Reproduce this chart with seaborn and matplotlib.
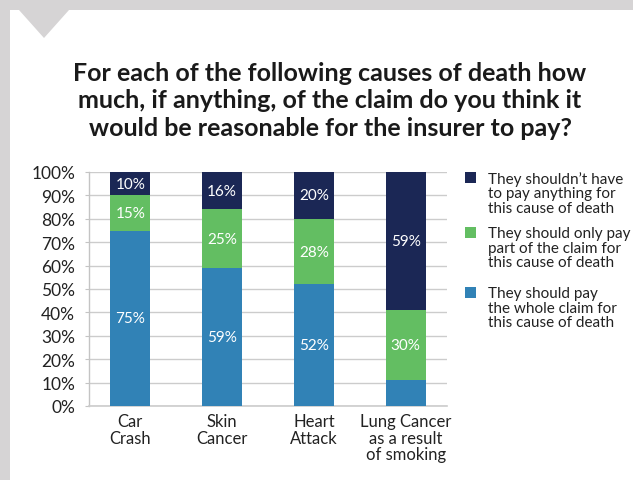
import matplotlib
matplotlib.use("Agg")
import matplotlib.pyplot as plt
from matplotlib.patches import Rectangle, Polygon
import seaborn as sns
import pandas as pd

categories = ["Car\nCrash", "Skin\nCancer", "Heart\nAttack", "Lung Cancer\nas a result\nof smoking"]
whole = [75, 59, 52, 11]
part = [15, 25, 28, 30]
nothing = [10, 16, 20, 59]
whole_labels = ["75%", "59%", "52%", None]
part_labels = ["15%", "25%", "28%", "30%"]
nothing_labels = ["10%", "16%", "20%", "59%"]
series_names = [
    "They shouldn\u2019t have\nto pay anything for\nthis cause of death",
    "They should only pay\npart of the claim for\nthis cause of death",
    "They should pay\nthe whole claim for\nthis cause of death",
]
yticks = [0, 10, 20, 30, 40, 50, 60, 70, 80, 90, 100]
title = ("For each of the following causes of death how\n"
         "much, if anything, of the claim do you think it\n"
         "would be reasonable for the insurer to pay?")

NAVY = "#1b2755"
GREEN = "#63be62"
BLUE = "#3182b6"
GREY_BG = "#d6d4d5"

sns.set_style("white")
plt.rcParams["font.family"] = ["Lato", "DejaVu Sans"]

W, H = 633, 481
fig = plt.figure(figsize=(W / 100, H / 100), dpi=100, facecolor=GREY_BG)

# white panel and notch
fig.patches.append(Rectangle((10 / W, 0), 1, 1 - 11 / H, transform=fig.transFigure,
                             facecolor="white", edgecolor="none", zorder=-3))
fig.patches.append(Polygon([(19 / W, 1 - 11 / H), (69 / W, 1 - 11 / H), (44 / W, 1 - 39 / H)],
                           closed=True, transform=fig.transFigure,
                           facecolor=GREY_BG, edgecolor="none", zorder=-2))

ax = fig.add_axes([89 / W, (H - 407) / H, 358 / W, 234 / H])
ax.set_zorder(1)
ax.set_facecolor("none")

df = pd.DataFrame({"cat": categories, "whole": whole, "part": part, "nothing": nothing})
df["wp"] = df["whole"] + df["part"]
df["all"] = df["wp"] + df["nothing"]

bw = 0.436
for col, c in [("all", NAVY), ("wp", GREEN), ("whole", BLUE)]:
    sns.barplot(data=df, x="cat", y=col, color=c, saturation=1, width=bw, ax=ax,
                zorder=3, linewidth=0, edgecolor="none")

for i in range(len(categories)):
    segs = [(whole[i], 0, whole_labels[i]),
            (part[i], whole[i], part_labels[i]),
            (nothing[i], whole[i] + part[i], nothing_labels[i])]
    for h, b, lab in segs:
        if lab:
            ax.text(i, b + h / 2, lab, ha="center", va="center", color="white",
                    fontsize=11, zorder=4)

ax.set_xlim(-0.45, 3.45)
ax.set_ylim(0, 100)
ax.set_yticks(yticks)
ax.set_yticklabels([f"{t}%" for t in yticks])
ax.set_xlabel("")
ax.set_ylabel("")
ax.yaxis.grid(True, color="#cccccc", linewidth=1, zorder=0)
ax.set_axisbelow(True)
for s in ["top", "right"]:
    ax.spines[s].set_visible(False)
ax.spines["left"].set_color("#c4c4c4")
ax.spines["bottom"].set_color("#cccccc")
ax.spines["left"].set_linewidth(1)
ax.spines["bottom"].set_linewidth(1.2)
ax.tick_params(axis="y", length=3, color="#c4c4c4", pad=7, labelsize=12.5, labelcolor="#222222", left=True)
ax.tick_params(axis="x", length=0, pad=5, labelsize=12, labelcolor="#222222")
for lbl in ax.get_xticklabels():
    lbl.set_linespacing(1.05)

fig.text(330 / W, 1 - 101 / H, title, ha="center", va="center", fontsize=18,
         fontweight="bold", color="#1a1a1a", linespacing=1.25)

# legend
leg_colors = [NAVY, GREEN, BLUE]
leg_tops = [173, 228, 288]
for c, top, name in zip(leg_colors, leg_tops, series_names):
    fig.patches.append(Rectangle((465 / W, 1 - (top + 11) / H), 11 / W, 11 / H,
                                 transform=fig.transFigure, facecolor=c, edgecolor="none", zorder=5))
    fig.text(488 / W, 1 - (top - 1) / H, name, ha="left", va="top", fontsize=11,
             color="#222222", linespacing=1.05)

fig.savefig("out.png", dpi=100, facecolor=GREY_BG)
